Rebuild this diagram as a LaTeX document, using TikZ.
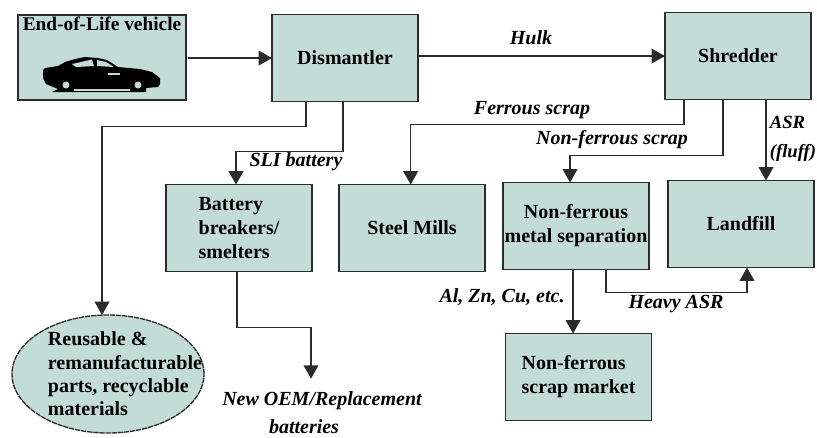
\documentclass[tikz,border=0pt]{standalone}
\usepackage{fontspec}
\setmainfont{Liberation Serif}
\usetikzlibrary{positioning,arrows.meta,shapes.geometric}
\definecolor{tint}{HTML}{C3DDD6}
\definecolor{ink}{HTML}{2B2B2B}
\tikzset{
  pbox/.style={draw=ink, line width=1pt, fill=tint, inner sep=0pt, outer sep=0pt, text=black,
    minimum width=109.5pt, minimum height=65.25pt,
    font=\fontsize{15pt}{18pt}\selectfont\bfseries},
  arr/.style={-{Triangle[length=10pt,width=11pt]}, line width=1pt, color=ink},
  flow/.style={font=\fontsize{15pt}{18pt}\selectfont\bfseries\itshape, text=black, inner sep=0pt},
}
\begin{document}
\begin{tikzpicture}[x=.75pt,y=-.75pt]
  \useasboundingbox (0,0) rectangle (817,437);
  \node[pbox, minimum width=126pt, minimum height=63.75pt, align=center,
    font=\fontsize{14.5pt}{18pt}\selectfont\bfseries] (eol) at (102,57.5)
    {End-of-Life vehicle\\[28pt]\strut};
  \node[pbox, right=64.5pt of eol, yshift=-.4pt] (dism) {Dismantler};
  \node[pbox, right=185.25pt of dism, yshift=1.5pt] (shred) {Shredder};
  \node[pbox, below=62.25pt of dism, xshift=-79.5pt, align=left] (batt) {Battery\\breakers/\\smelters};
  \node[pbox, right=20.25pt of batt] (steel) {Steel Mills};
  \node[pbox, right=13.5pt of steel, yshift=1.5pt, align=center] (sep) {Non-ferrous\\metal separation};
  \node[pbox, right=14.25pt of sep, yshift=1.5pt] (land) {Landfill};
  \node[pbox, below=48pt of sep, xshift=1.9pt, align=left] (market) {Non-ferrous\\scrap market};
  \node[ellipse, draw=ink, line width=1pt, dash pattern=on 4pt off .6pt, fill=tint, inner sep=0pt, outer sep=0pt,
    minimum width=144pt, minimum height=88.5pt, below=161.25pt of eol, xshift=4.5pt] (reuse) {};
  \node[font=\fontsize{15pt}{17.5pt}\selectfont\bfseries, align=left, inner sep=0pt, xshift=12.75pt]
    (reusetext) at (reuse.center) {Reusable \&\\remanufacturable\\parts, recyclable\\materials};
  \node[flow] (oem) at (322,401) {New OEM/Replacement};
  \node[flow] (oemb) at (304,427) {batteries};
  % car
  \fill[black] (43,70) -- (45,68) -- (58,66) -- (65,62) -- (75,59) -- (85,57) -- (98,58) -- (107,60) -- (118,67)
    -- (140,69) -- (152,72) -- (160,78) -- (160,84) -- (158,87) -- (146,88) -- (146,92) -- (52,92)
    -- (58,89) -- (46,84) -- (43,78) -- cycle;
  \fill[tint] (72,64) -- (92,59.5) -- (94,66) -- (76,67) -- cycle;
  \fill[tint] (97,60) -- (106,62) -- (114,67) -- (97,66) -- cycle;
  \fill[tint] (66,85) circle (3.5);
  \fill[tint] (138,85) circle (3.5);
  \fill[tint] (74,88.5) rectangle (130,90.5);
  \fill[tint] (108,73) rectangle (120,74.5);
  % connectors
  \draw[arr] ([xshift=1.5pt]eol.east |- dism.west) -- (dism.west);
  \draw[arr] (dism.east |- shred.west) -- (shred.west);
  \draw[arr] ([xshift=-29.25pt]dism.south) -- ++(0,25) -| ([xshift=-4.5pt]reuse.north);
  \draw[arr] ([xshift=-1.5pt]dism.south) -- ++(0,50) -| ([xshift=-2.25pt]batt.north);
  \draw[arr] ([xshift=-40.5pt]shred.south) -- ++(0,25) -| ([xshift=-1pt]steel.north);
  \draw[arr] ([xshift=-11.25pt]shred.south) -- ++(0,56) -| ([xshift=-4.5pt]sep.north);
  \draw[arr] ([xshift=18.75pt]land.north |- shred.south) -- ([xshift=18.75pt]land.north);
  \draw[arr] ([xshift=-1.5pt]batt.south) -- ++(0,56) -| ([xshift=-8.25pt,yshift=9.75pt]oem.north);
  \draw[arr] ([xshift=-4.1pt]market.north |- sep.south) -- ([xshift=-4.1pt]market.north);
  \draw[arr] ([xshift=22.5pt]sep.south) -- ++(0,23) -| ([xshift=4.5pt]land.south);
  % labels
  \node[flow] (hulk) at (531,38) {Hulk};
  \node[flow] (ferrous) at (532,110) {Ferrous scrap};
  \node[flow] (nonferrous) at (612,140) {Non-ferrous scrap};
  \node[flow, align=left, font=\fontsize{14pt}{21.5pt}\selectfont\bfseries\itshape] (asr) at (793,138.5) {ASR\\(fluff)};
  \node[flow] (sli) at (296,162) {SLI battery};
  \node[flow] (metals) at (502,297) {Al, Zn, Cu, etc.};
  \node[flow] (heavy) at (676,304) {Heavy ASR};
\end{tikzpicture}
\end{document}
